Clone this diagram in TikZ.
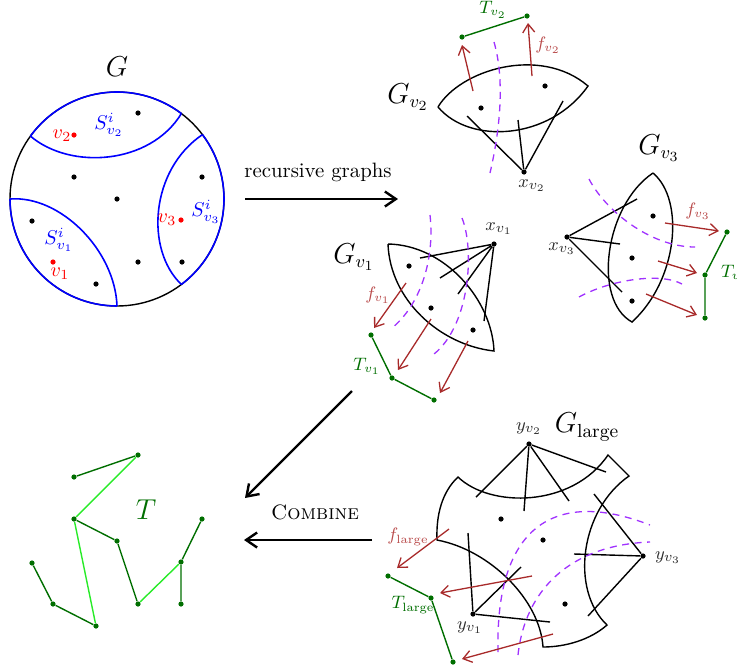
\documentclass[tikz,border=0pt]{standalone}
\usepackage{amsmath}
\usetikzlibrary{arrows.meta,calc}
\definecolor{arrred}{RGB}{168,42,42}
\definecolor{flab}{RGB}{185,75,75}
\definecolor{tgreen}{RGB}{0,110,0}
\definecolor{lgreen}{RGB}{40,235,40}
\definecolor{purp}{RGB}{160,50,255}
\definecolor{labgray}{RGB}{45,45,45}
\begin{document}
\begin{tikzpicture}[x=0.5pt,y=-0.5pt,
  font=\fontsize{10.4}{12.5}\selectfont,
  dot/.style={circle,fill=black,inner sep=0pt,minimum size=2.6pt},
  rdot/.style={dot,fill=red},
  gdot/.style={dot,fill=tgreen},
  edge/.style={line width=0.7pt},
  blueline/.style={blue,line width=0.8pt},
  tline/.style={tgreen,line width=0.7pt},
  lline/.style={lgreen,line width=0.7pt},
  fmap/.style={arrred,line width=0.65pt,-{Straight Barb[length=4.2pt,width=6pt]}},
  cut/.style={purp,line width=0.65pt,dash pattern=on 3.5pt off 2.8pt},
  big/.style={line width=1.2pt,-{Straight Barb[length=5.5pt,width=7.5pt]}},
  glab/.style={font=\fontsize{13.5}{16}\selectfont},
  xlab/.style={text=labgray,font=\fontsize{9.4}{11}\selectfont},
  flabel/.style={text=flab,font=\fontsize{9}{11}\selectfont},
  tlab/.style={text=tgreen,font=\fontsize{9}{11}\selectfont}
]
\useasboundingbox (0,0) rectangle (737,670);

% ---------------- G ----------------
\coordinate (GC) at (117,199);
\coordinate (Ga) at ($(GC)+(216:107)$);
\coordinate (Gb) at ($(GC)+(307:107)$);
\coordinate (Gc) at ($(GC)+(323:107)$);
\coordinate (Gd) at ($(GC)+(53:107)$);
\coordinate (Ge) at ($(GC)+(90:107)$);
\coordinate (Gf) at ($(GC)+(180:107)$);
\draw[edge] (GC) circle[radius=107];
\draw[blueline] (Ga) arc[start angle=216,end angle=307,radius=107];
\draw[blueline] (Gc) arc[start angle=323,end angle=413,radius=107];
\draw[blueline] (Ge) arc[start angle=90,end angle=180,radius=107];
\draw[blueline] (Ga) .. controls (70,170) and (150,165) .. (Gb);
\draw[blueline] (Gc) .. controls (150,170) and (145,250) .. (Gd);
\draw[blueline] (Gf) .. controls (60,195) and (115,250) .. (Ge);
\node[glab] (Glab) at (117,67) {$G$};
\foreach \n/\p in {g1/{(138,113)},g2/{(74,177)},g3/{(117,199)},g4/{(202,177)},g5/{(32,221)},g6/{(138,262)},g7/{(182,262)},g8/{(96,284)}}
  \node[dot] (\n) at \p {};
\node[rdot] (rv2) at (74,135) {};
\node[rdot] (rv3) at (181,220) {};
\node[rdot] (rv1) at (53,262) {};
\node[red,inner sep=1pt] (lv2) at (62,136) {$v_2$};
\node[red,inner sep=1pt] (lv3) at (167,220) {$v_3$};
\node[red,inner sep=1pt] (lv1) at (60,274) {$v_1$};
\node[blue,inner sep=1pt] (S2) at (109,125) {$S^i_{v_2}$};
\node[blue,inner sep=1pt] (S3) at (206,212) {$S^i_{v_3}$};
\node[blue,inner sep=1pt] (S1) at (59,240) {$S^i_{v_1}$};

% ---------------- big arrows ----------------
\coordinate (ra1) at (245,199);
\coordinate (ra2) at (398,199);
\draw[big] (ra1) -- (ra2);
\node (rlab) at (318,172) {recursive graphs};
\coordinate (da1) at (352,391);
\coordinate (da2) at (245,498);
\draw[big] (da1) -- (da2);
\coordinate (ca1) at (372,540);
\coordinate (ca2) at (244,540);
\draw[big] (ca1) -- (ca2);
\node (clab) at (315,512) {\textsc{Combine}};

% ---------------- G_v2 ----------------
\coordinate (v2L) at (438,107);
\coordinate (v2R) at (588,86);
\draw[edge] (v2L) .. controls (460,70) and (540,45) .. (v2R) .. controls (550,140) and (470,145) .. (v2L);
\node[dot] (v2d1) at (481,108) {};
\node[dot] (v2d2) at (545,86) {};
\node[dot] (xv2) at (524,172) {};
\node[xlab] (xv2l) at (532,186) {$x_{v_2}$};
\coordinate (xv2a) at (467,116);
\coordinate (xv2b) at (518,120);
\coordinate (xv2c) at (563,101);
\draw[edge] (xv2) -- (xv2a) (xv2) -- (xv2b) (xv2) -- (xv2c);
\draw[cut] (494,42) .. controls (505,80) and (500,130) .. (490,173);
\node[gdot] (tv2a) at (462,37) {};
\node[gdot] (tv2b) at (527,16) {};
\draw[tline] (tv2a) -- (tv2b);
\node[tlab] (tv2l) at (493,10) {$T_{v_2}$};
\coordinate (fv2a) at (473,91);
\coordinate (fv2b) at (532,76);
\draw[fmap] (fv2a) -- ($(tv2a)+(0,8)$);
\draw[fmap] (fv2b) -- ($(tv2b)+(1,7)$);
\node[flabel] (fv2l) at (548,45) {$f_{v_2}$};
\node[glab] (Gv2) at (408,97) {$G_{v_2}$};

% ---------------- G_v3 ----------------
\coordinate (v3T) at (653,173);
\coordinate (v3B) at (632,322);
\draw[edge] (v3T) .. controls (605,205) and (592,300) .. (v3B) .. controls (678,280) and (685,200) .. (v3T);
\node[dot] (v3d1) at (653,216) {};
\node[dot] (v3d2) at (632,258) {};
\node[dot] (v3d3) at (632,301) {};
\node[dot] (xv3) at (567,237) {};
\node[xlab] (xv3l) at (562,249) {$x_{v_3}$};
\coordinate (xv3a) at (637,199);
\coordinate (xv3b) at (620,244);
\coordinate (xv3c) at (622,292);
\draw[edge] (xv3) -- (xv3a) (xv3) -- (xv3b) (xv3) -- (xv3c);
\draw[cut] (589,179) .. controls (605,210) and (650,247) .. (695,247);
\draw[cut] (579,297) .. controls (610,280) and (660,272) .. (682,284);
\node[gdot] (tv3a) at (727,232) {};
\node[gdot] (tv3b) at (705,275) {};
\node[gdot] (tv3c) at (705,318) {};
\draw[tline] (tv3a) -- (tv3b) -- (tv3c);
\node[tlab,anchor=west] (tv3l) at (714,273) {$T_{v_3}$};
\coordinate (fv3a) at (665,223);
\coordinate (fv3b) at (658,261);
\coordinate (fv3c) at (646,294);
\draw[fmap] (fv3a) -- ($(tv3a)+(-8,-1)$);
\draw[fmap] (fv3b) -- ($(tv3b)+(-8,-2)$);
\draw[fmap] (fv3c) -- ($(tv3c)+(-8,-3)$);
\node[flabel] (fv3l) at (698,211) {$f_{v_3}$};
\node[glab] (Gv3) at (659,148) {$G_{v_3}$};

% ---------------- G_v1 ----------------
\coordinate (v1P) at (388,244);
\coordinate (v1Q) at (494,351);
\draw[edge] (v1P) .. controls (445,245) and (492,300) .. (v1Q) .. controls (440,345) and (390,300) .. (v1P);
\node[dot] (v1d1) at (409,266) {};
\node[dot] (v1d2) at (431,308) {};
\node[dot] (v1d3) at (473,330) {};
\node[dot] (xv1) at (494,244) {};
\node[xlab] (xv1l) at (499,229) {$x_{v_1}$};
\coordinate (xv1a) at (420,258);
\coordinate (xv1b) at (440,278);
\coordinate (xv1c) at (458,294);
\coordinate (xv1d) at (484,321);
\draw[edge] (xv1) -- (xv1a) (xv1) -- (xv1b) (xv1) -- (xv1c) (xv1) -- (xv1d);
\draw[cut] (430,215) .. controls (435,260) and (420,305) .. (392,328);
\draw[cut] (462,218) .. controls (475,250) and (470,330) .. (430,357);
\node[gdot] (tv1a) at (371,335) {};
\node[gdot] (tv1b) at (392,378) {};
\node[gdot] (tv1c) at (434,400) {};
\draw[tline] (tv1a) -- (tv1b) -- (tv1c);
\node[tlab] (tv1l) at (367,366) {$T_{v_1}$};
\coordinate (fv1a) at (406,283);
\coordinate (fv1b) at (431,319);
\coordinate (fv1c) at (468,341);
\coordinate (fv1ae) at (374,328);
\coordinate (fv1be) at (398,370);
\coordinate (fv1ce) at (440,393);
\draw[fmap] (fv1a) -- (fv1ae);
\draw[fmap] (fv1b) -- (fv1be);
\draw[fmap] (fv1c) -- (fv1ce);
\node[flabel] (fv1l) at (378,295) {$f_{v_1}$};
\node[glab] (Gv1) at (354,257) {$G_{v_1}$};

% ---------------- G_large ----------------
\coordinate (P1) at (458,477);
\coordinate (P2) at (608,455);
\coordinate (P3) at (629,476);
\coordinate (P4) at (607,625);
\coordinate (P5) at (543,647);
\coordinate (P6) at (437,540);
\draw[edge] (P1) .. controls (490,508) and (572,508) .. (P2) -- (P3)
  .. controls (580,510) and (570,590) .. (P4)
  .. controls (590,640) and (565,647) .. (P5)
  .. controls (540,600) and (490,550) .. (P6)
  .. controls (436,515) and (442,492) .. (P1) -- cycle;
\node[dot] (ld1) at (501,519) {};
\node[dot] (ld2) at (543,540) {};
\node[dot] (ld3) at (565,604) {};
\node[dot] (yv2) at (529,444) {};
\node[xlab] (yv2l) at (529,429) {$y_{v_2}$};
\coordinate (yv2a) at (476,497);
\coordinate (yv2b) at (524,511);
\coordinate (yv2c) at (569,501);
\coordinate (yv2d) at (606,472);
\draw[edge] (yv2) -- (yv2a) (yv2) -- (yv2b) (yv2) -- (yv2c) (yv2) -- (yv2d);
\node[dot] (yv3) at (643,556) {};
\node[xlab,anchor=west] (yv3l) at (648,558) {$y_{v_3}$};
\coordinate (yv3a) at (594,494);
\coordinate (yv3b) at (574,554);
\coordinate (yv3c) at (588,616);
\draw[edge] (yv3) -- (yv3a) (yv3) -- (yv3b) (yv3) -- (yv3c);
\node[dot] (yv1) at (473,614) {};
\node[xlab] (yv1l) at (470,628) {$y_{v_1}$};
\coordinate (yv1a) at (468,533);
\coordinate (yv1b) at (521,567);
\coordinate (yv1c) at (550,622);
\draw[edge] (yv1) -- (yv1a) (yv1) -- (yv1b) (yv1) -- (yv1c);
\draw[cut] (498,652) .. controls (495,520) and (560,490) .. (650,525);
\draw[cut] (518,655) .. controls (525,590) and (570,545) .. (650,542);
\node[gdot] (tla) at (388,576) {};
\node[gdot] (tlb) at (431,598) {};
\node[gdot] (tlc) at (453,662) {};
\draw[tline] (tla) -- (tlb) -- (tlc);
\node[tlab] (tll) at (413,605) {$T_{\text{large}}$};
\coordinate (fla) at (449,529);
\coordinate (flb) at (532,576);
\coordinate (flc) at (553,634);
\coordinate (flae) at (397,568);
\coordinate (flbe) at (440,593);
\coordinate (flce) at (462,659);
\draw[fmap] (fla) -- (flae);
\draw[fmap] (flb) -- (flbe);
\draw[fmap] (flc) -- (flce);
\node[flabel] (fll) at (408,537) {$f_{\text{large}}$};
\node[glab] (Glarge) at (587,427) {$G_{\text{large}}$};

% ---------------- T ----------------
\node[gdot] (ta) at (74,477) {};
\node[gdot] (tb) at (138,455) {};
\node[gdot] (tc) at (74,519) {};
\node[gdot] (td) at (117,541) {};
\node[gdot] (te) at (32,563) {};
\node[gdot] (tf) at (53,604) {};
\node[gdot] (tg) at (96,626) {};
\node[gdot] (th) at (138,604) {};
\node[gdot] (ti) at (181,562) {};
\node[gdot] (tj) at (202,519) {};
\node[gdot] (tk) at (181,604) {};
\draw[tline] (ta) -- (tb) (tc) -- (td) -- (th) (te) -- (tf) -- (tg) (ti) -- (tj) (ti) -- (tk);
\draw[lline] (tb) -- (tc) -- (tg) (th) -- (ti);
\node[text=tgreen,font=\Large] (Tlab) at (146,510) {$T$};
\end{tikzpicture}
\end{document}
